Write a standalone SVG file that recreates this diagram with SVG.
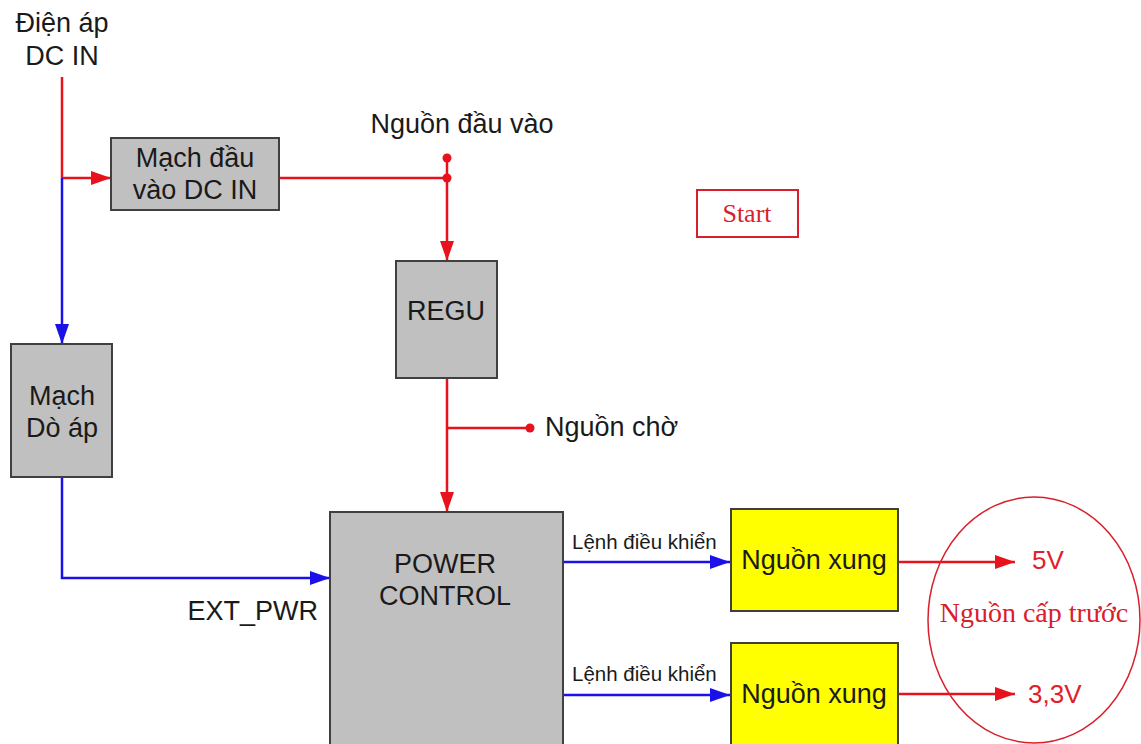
<svg xmlns="http://www.w3.org/2000/svg" width="1141" height="744" viewBox="0 0 1141 744">
<style>
.t{font-family:"Liberation Sans",Arial,sans-serif;font-size:27px;fill:#1a1a1a}
.s{font-family:"Liberation Sans",Arial,sans-serif;font-size:20.5px;fill:#1a1a1a}
.box{fill:#c0c0c0;stroke:#404040;stroke-width:2}
.yb{fill:#ffff00;stroke:#404040;stroke-width:2}
.r{stroke:#e8121c;stroke-width:2.5;fill:none}
.b{stroke:#1a10e8;stroke-width:2.5;fill:none}
.rt{font-family:"Liberation Serif","Times New Roman",serif;font-size:28px;fill:#d8202c}
.rs{font-family:"Liberation Sans",Arial,sans-serif;font-size:26px;fill:#e0202a}
</style>
<defs>
<marker id="ar" markerUnits="userSpaceOnUse" markerWidth="22" markerHeight="16" refX="20" refY="8" orient="auto"><path d="M0,1 L20,8 L0,15 Z" fill="#e8121c"/></marker>
<marker id="ab" markerUnits="userSpaceOnUse" markerWidth="22" markerHeight="16" refX="20" refY="8" orient="auto"><path d="M0,1 L20,8 L0,15 Z" fill="#1a10e8"/></marker>
</defs>
<rect width="1141" height="744" fill="#ffffff"/>
<g id="connectors">
<path class="r" d="M62,77 V178"/>
<path class="r" d="M62,178 H111" marker-end="url(#ar)"/>
<path class="b" d="M62,178 V344" marker-end="url(#ab)"/>
<path class="r" d="M279,178 H447"/>
<path class="r" d="M447,158 V261" marker-end="url(#ar)"/>
<circle cx="447" cy="158" r="4.5" fill="#e8121c"/>
<circle cx="447" cy="178" r="4.5" fill="#e8121c"/>
<path class="r" d="M447,378 V512" marker-end="url(#ar)"/>
<path class="r" d="M447,428 H530"/>
<circle cx="530" cy="428" r="4.5" fill="#e8121c"/>
<path class="b" d="M62,477 V578 H330" marker-end="url(#ab)"/>
<path class="b" d="M563,562 H730" marker-end="url(#ab)"/>
<path class="b" d="M563,695 H730" marker-end="url(#ab)"/>
<path class="r" d="M898,562 H1015" marker-end="url(#ar)"/>
<path class="r" d="M898,694 H1015" marker-end="url(#ar)"/>
</g>
<g id="label-dcin"><text class="t" x="62" y="32" text-anchor="middle">Điện áp</text><text class="t" x="62" y="65" text-anchor="middle">DC IN</text></g>
<g id="node-dcin"><rect class="box" x="111" y="138" width="168" height="72"/><text class="t" x="195" y="167" text-anchor="middle">Mạch đầu</text><text class="t" x="195" y="199" text-anchor="middle">vào DC IN</text></g>
<g id="label-nguondauvao"><text class="t" x="462" y="133" text-anchor="middle">Nguồn đầu vào</text></g>
<g id="node-start"><rect x="697" y="190" width="101" height="47" fill="#ffffff" stroke="#d8202c" stroke-width="2"/><text class="rt" x="747" y="222" text-anchor="middle" style="font-size:26px">Start</text></g>
<g id="node-regu"><rect class="box" x="396" y="261" width="101" height="117"/><text class="t" x="446" y="320" text-anchor="middle">REGU</text></g>
<g id="label-nguoncho"><text class="t" x="545" y="436">Nguồn chờ</text></g>
<g id="node-doap"><rect class="box" x="11" y="344" width="101" height="133"/><text class="t" x="62" y="405" text-anchor="middle">Mạch</text><text class="t" x="62" y="437" text-anchor="middle">Dò áp</text></g>
<g id="label-extpwr"><text class="t" x="318" y="620" text-anchor="end">EXT_PWR</text></g>
<g id="node-powercontrol"><rect class="box" x="330" y="512" width="233" height="240"/><text class="t" x="445" y="573" text-anchor="middle">POWER</text><text class="t" x="445" y="605" text-anchor="middle">CONTROL</text></g>
<g id="labels-lenh"><text class="s" x="572" y="549">Lệnh điều khiển</text><text class="s" x="572" y="681">Lệnh điều khiển</text></g>
<g id="node-xung1"><rect class="yb" x="731" y="509" width="167" height="102"/><text class="t" x="814" y="569" text-anchor="middle">Nguồn xung</text></g>
<g id="node-xung2"><rect class="yb" x="731" y="643" width="167" height="110"/><text class="t" x="814" y="703" text-anchor="middle">Nguồn xung</text></g>
<g id="node-nguoncaptruoc"><ellipse cx="1034" cy="620" rx="106" ry="123" fill="none" stroke="#d8202c" stroke-width="1.5"/><text class="rs" x="1032" y="569">5V</text><text class="rs" x="1028" y="703">3,3V</text><text class="rt" x="1034" y="622" text-anchor="middle">Nguồn cấp trước</text></g>
</svg>
